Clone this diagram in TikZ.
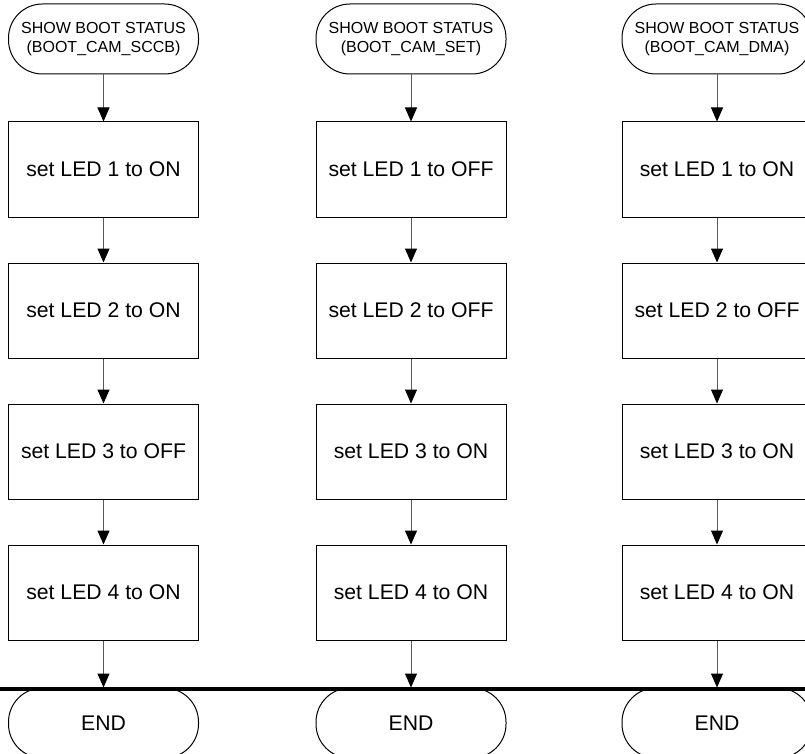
\documentclass[tikz,border=0pt]{standalone}
\usepackage{fontspec}
\setmainfont{Liberation Sans}
\usepackage{tikz}
\usetikzlibrary{arrows.meta}
\tikzstyle{tsText} = [ 
    text=black, 
    font=\fontsize{21.2}{24}\selectfont
]
\tikzstyle{tsBox} = [ 
    rectangle,
    tsText,               
    draw=black,
    line width=1pt,
    minimum width=190pt,
    minimum height=95pt]
\tikzstyle{tsTerminal} = [  
    tsBox,
    rounded corners=34pt,
    minimum height=70pt
]
\tikzstyle{tsStart} = [  
    tsTerminal,
    align=center,
    font=\fontsize{16}{19}\selectfont
]
\tikzstyle{tsFlow} = [
    draw=black!65,
    line width=1pt,
    -{Triangle[length=14pt,width=12pt,color=black]}
]

\begin{document}
\begin{tikzpicture}[x=1pt, y=-1pt]

        \useasboundingbox (0,0) rectangle (805,754);

        % first column
        \node[tsStart] (sccbStart) at (103.5,39) {SHOW BOOT STATUS\\(BOOT\_CAM\_SCCB)};
        \node[tsBox] (sccbLedA) at (103.5,169.5) {set LED 1 to ON};
        \node[tsBox] (sccbLedB) at (103.5,310.5) {set LED 2 to ON};
        \node[tsBox] (sccbLedC) at (103.5,451.5) {set LED 3 to OFF};
        \node[tsBox] (sccbLedD) at (103.5,592.5) {set LED 4 to ON};
        \node[tsTerminal] (sccbEnd) at (103.5,723) {END};

        % second column
        \node[tsStart] (setStart) at (411,39) {SHOW BOOT STATUS\\(BOOT\_CAM\_SET)};
        \node[tsBox] (setLedA) at (411,169.5) {set LED 1 to OFF};
        \node[tsBox] (setLedB) at (411,310.5) {set LED 2 to OFF};
        \node[tsBox] (setLedC) at (411,451.5) {set LED 3 to ON};
        \node[tsBox] (setLedD) at (411,592.5) {set LED 4 to ON};
        \node[tsTerminal] (setEnd) at (411,723) {END};

        % third column
        \node[tsStart] (dmaStart) at (717,39) {SHOW BOOT STATUS\\(BOOT\_CAM\_DMA)};
        \node[tsBox] (dmaLedA) at (717,169.5) {set LED 1 to ON};
        \node[tsBox] (dmaLedB) at (717,310.5) {set LED 2 to OFF};
        \node[tsBox] (dmaLedC) at (717,451.5) {set LED 3 to ON};
        \node[tsBox] (dmaLedD) at (717,592.5) {set LED 4 to ON};
        \node[tsTerminal] (dmaEnd) at (717,723) {END};

        \draw[tsFlow] (sccbStart.south) -- (sccbLedA.north);
        \draw[tsFlow] (sccbLedA.south) -- (sccbLedB.north);
        \draw[tsFlow] (sccbLedB.south) -- (sccbLedC.north);
        \draw[tsFlow] (sccbLedC.south) -- (sccbLedD.north);
        \draw[tsFlow] (sccbLedD.south) -- (sccbEnd.north);

        \draw[tsFlow] (setStart.south) -- (setLedA.north);
        \draw[tsFlow] (setLedA.south) -- (setLedB.north);
        \draw[tsFlow] (setLedB.south) -- (setLedC.north);
        \draw[tsFlow] (setLedC.south) -- (setLedD.north);
        \draw[tsFlow] (setLedD.south) -- (setEnd.north);

        \draw[tsFlow] (dmaStart.south) -- (dmaLedA.north);
        \draw[tsFlow] (dmaLedA.south) -- (dmaLedB.north);
        \draw[tsFlow] (dmaLedB.south) -- (dmaLedC.north);
        \draw[tsFlow] (dmaLedC.south) -- (dmaLedD.north);
        \draw[tsFlow] (dmaLedD.south) -- (dmaEnd.north);

        % page break line
        \coordinate (breakLeft) at (0,689);
        \coordinate (breakRight) at (805,689);
        \draw[line width=3.5pt] (breakLeft) -- (breakRight);

    \end{tikzpicture}
\end{document}
